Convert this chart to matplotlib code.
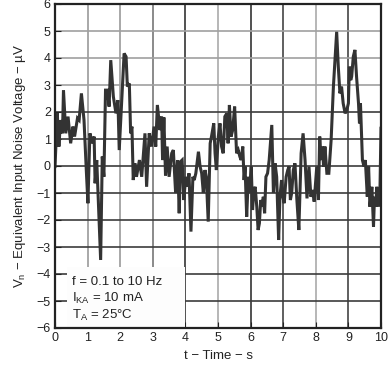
import matplotlib
matplotlib.use("Agg")
import matplotlib.pyplot as plt
from matplotlib.patches import Rectangle

# noise trace (time in s, noise in uV)
time_s = [
    0.00, 0.07, 0.12, 0.17, 0.23, 0.26, 0.33, 0.40, 0.48, 0.55,
    0.60, 0.69, 0.74, 0.81, 0.89, 0.96, 1.01, 1.07, 1.15, 1.20,
    1.23, 1.28, 1.40, 1.45, 1.50, 1.55, 1.61, 1.66, 1.71, 1.79,
    1.87, 1.93, 1.97, 2.12, 2.18, 2.22, 2.28, 2.32, 2.36, 2.40,
    2.45, 2.50, 2.59, 2.66, 2.76, 2.81, 2.89, 2.96, 3.04, 3.09,
    3.14, 3.22, 3.27, 3.30, 3.34, 3.39, 3.44, 3.50, 3.58, 3.63,
    3.70, 3.76, 3.81, 3.85, 3.90, 3.95, 4.01, 4.06, 4.11, 4.17,
    4.23, 4.27, 4.32, 4.40, 4.45, 4.50, 4.55, 4.60, 4.64, 4.70,
    4.76, 4.80, 4.87, 4.91, 4.95, 5.01, 5.06, 5.11, 5.16, 5.21,
    5.27, 5.31, 5.35, 5.40, 5.45, 5.51, 5.57, 5.62, 5.67, 5.71,
    5.76, 5.80, 5.83, 5.88, 5.93, 5.96, 6.02, 6.06, 6.10, 6.14,
    6.19, 6.23, 6.27, 6.31, 6.35, 6.39, 6.43, 6.47, 6.52, 6.57,
    6.65, 6.70, 6.75, 6.80, 6.86, 6.90, 6.95, 6.99, 7.03, 7.09,
    7.14, 7.18, 7.22, 7.26, 7.31, 7.36, 7.42, 7.48, 7.55, 7.61,
    7.67, 7.73, 7.79, 7.85, 7.91, 7.95, 8.03, 8.08, 8.12, 8.16,
    8.20, 8.24, 8.28, 8.34, 8.40, 8.47, 8.54, 8.64, 8.69, 8.74,
    8.79, 8.84, 8.90, 8.95, 9.00, 9.03, 9.07, 9.10, 9.15, 9.20,
    9.25, 9.31, 9.34, 9.37, 9.43, 9.48, 9.52, 9.58, 9.62, 9.66,
    9.72, 9.77, 9.80, 9.84, 9.87, 9.92, 9.97, 10.00,
]
noise_uv = [
    -0.02, 1.95, 0.72, 1.70, 1.21, 2.81, 1.21, 1.83, 0.84, 1.46,
    1.09, 1.77, 1.70, 2.69, 1.70, -0.15, -1.38, 1.21, 0.84, 1.09,
    -0.64, 0.22, -3.48, 0.35, -0.40, 2.81, 2.81, 2.20, 3.92, 2.57,
    1.95, 2.44, 0.59, 4.17, 4.05, 2.94, 3.06, 1.21, 1.46, -0.52,
    0.10, -0.40, 0.22, -0.40, 1.21, -0.77, 1.21, 0.72, 1.46, 0.72,
    2.26, 1.33, 1.83, 0.22, 1.80, -0.35, 0.72, -0.40, 0.47, 0.59,
    -1.00, 0.22, -1.75, 0.16, 0.22, -1.26, -0.40, -0.77, -0.27, -2.43,
    -0.40, -0.52, -0.27, 0.53, -0.02, -0.27, -1.00, -0.15, -0.40, -2.06,
    0.84, 1.09, 1.58, 0.47, -0.15, 1.09, 1.58, 0.72, 0.47, 1.83,
    1.95, 0.84, 2.26, 1.09, 1.33, 2.20, 0.47, 0.59, 0.35, 0.22,
    0.72, -0.52, -0.02, -1.88, -0.40, -1.00, -0.02, -1.63, -0.89, -0.77,
    -1.51, -2.37, -2.12, -1.26, -1.51, -1.14, -1.75, -0.40, -0.27, 0.22,
    1.52, -1.00, 0.10, -0.40, -2.74, -1.14, -0.52, -1.14, -1.38, -0.40,
    -0.15, -0.02, -1.26, -1.00, -0.15, 0.10, -1.26, -2.37, 0.47, 1.21,
    0.22, -1.20, -0.02, -1.14, -0.89, -1.32, -0.02, -1.26, 1.09, 0.22,
    0.72, -0.02, 0.72, -0.27, -0.27, 0.96, 2.94, 4.97, 3.68, 2.69,
    2.94, 2.32, 1.95, 2.07, 2.32, 3.68, 3.18, 3.31, 4.05, 4.30,
    3.31, 2.32, 1.58, 2.32, 0.22, -0.02, 0.22, -1.14, -0.02, -1.51,
    -0.77, -2.25, -1.14, -1.51, -0.77, -1.51, -0.77, 1.40,
]

x_ticks = list(range(0, 11))
y_ticks = list(range(-6, 7))
notes = ["f = 0.1 to 10 Hz", "I$_{\\mathregular{KA}}$ = 10 mA", "T$_{\\mathregular{A}}$ = 25°C"]

plt.rcParams["font.family"] = ["Liberation Sans", "DejaVu Sans"]
plt.rcParams["mathtext.fontset"] = "custom"
plt.rcParams["mathtext.rm"] = "Liberation Sans"
plt.rcParams["mathtext.it"] = "Liberation Sans"

fig = plt.figure(figsize=(3.88, 3.71), dpi=100)
ax = fig.add_axes([55 / 388, 1 - 328 / 371, 326 / 388, 324 / 371])

ax.set_xlim(0, 10)
ax.set_ylim(-6, 6)
ax.set_xticks(x_ticks)
ax.set_yticks(y_ticks)
ax.set_yticklabels([str(v).replace("-", "\u2212") for v in y_ticks])
ax.tick_params(direction="in", length=4, width=0.8, labelsize=9, pad=3,
               colors="#222222")

# scanned grid: some lines came out darker than others
v_colors = {1: "#9a9a9a", 2: "#9a9a9a", 3: "#777777", 4: "#333333", 5: "#aaaaaa",
            6: "#333333", 7: "#444444", 8: "#aaaaaa", 9: "#444444"}
for xv, c in v_colors.items():
    ax.axvline(xv, color=c, lw=1.2, zorder=1)
for yv in range(-5, 6):
    c = "#a0a0a0" if yv >= 3 else "#3c3c3c"
    ax.axhline(yv, color=c, lw=1.2, zorder=1)

# white panel behind the test conditions
ax.add_patch(Rectangle((0.37, -6), 3.62, 2.26, facecolor="#fdfdfd",
                       edgecolor="none", zorder=2))

ax.plot(time_s, noise_uv, color="#333333", lw=2.2, zorder=3,
        solid_joinstyle="miter")

for i, line in enumerate(notes):
    ax.text(0.52, -4.3 - i * 0.62, line, fontsize=9.5, color="#222222",
            va="center", ha="left", zorder=4)

for side in ax.spines.values():
    side.set_linewidth(1.6)
    side.set_color("#222222")
    side.set_zorder(5)

ax.set_xlabel("t \u2212 Time \u2212 s", fontsize=9.5, color="#222222", labelpad=4)
ax.set_ylabel("V$_{\\mathregular{n}}$ \u2212 Equivalent Input Noise Voltage \u2212 \u00b5V",
              fontsize=9.5, color="#222222", labelpad=6)

fig.savefig("out.png", dpi=100)
